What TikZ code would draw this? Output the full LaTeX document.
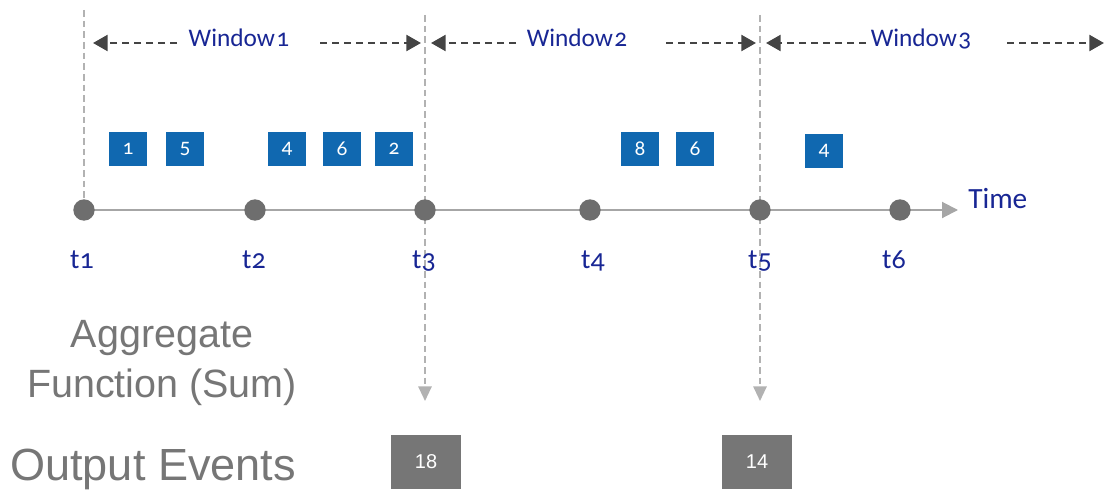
\documentclass[tikz,border=0pt]{standalone}
\usepackage{fontspec}
\setmainfont{Liberation Sans}
\newfontfamily\blfont[Numbers=OldStyle]{Carlito}
\usetikzlibrary{arrows.meta,backgrounds}

\definecolor{navytext}{RGB}{24,38,148}
\definecolor{evblue}{RGB}{16,104,176}
\definecolor{dotgray}{RGB}{110,110,110}
\definecolor{axisgray}{RGB}{166,166,166}
\definecolor{guidegray}{RGB}{178,178,178}
\definecolor{arrowgray}{RGB}{68,68,68}
\definecolor{outgray}{RGB}{118,118,118}

\begin{document}
\begin{tikzpicture}[x=0.75pt,y=-0.75pt,
  dot/.style={circle, fill=dotgray, inner sep=0pt, minimum size=16pt},
  evbox/.style={fill=evblue, text=white, inner sep=0pt,
    minimum width=28.5pt, minimum height=25.5pt,
    font=\blfont\fontsize{16}{16}\selectfont},
  outbox/.style={fill=outgray, text=white, inner sep=0pt,
    minimum width=52.5pt, minimum height=41pt,
    font=\fontsize{15}{15}\selectfont},
  tlabel/.style={text=navytext, inner sep=0pt, anchor=base,
    font=\blfont\fontsize{21}{21}\selectfont},
  winlabel/.style={text=navytext, inner sep=0pt, anchor=base,
    font=\blfont\fontsize{19}{19}\selectfont},
  guide/.style={draw=guidegray, line width=1.5pt, dash pattern=on 5pt off 3pt},
  guidearrow/.style={guide, -{Triangle[length=11pt,width=10pt,fill=guidegray]}},
  winarrow/.style={draw=arrowgray, line width=1.8pt,
    dash pattern=on 5.5pt off 3.5pt,
    -{Triangle[length=11pt,width=12pt,fill=arrowgray]}},
  axis/.style={draw=axisgray, line width=1.5pt,
    -{Triangle[length=12pt,width=12pt,fill=axisgray]}},
  graytext/.style={text=outgray, inner sep=0pt}
]
\useasboundingbox (0,0) rectangle (1105,499);

% time marks on the axis
\node[dot] (t1) at (84,210) {};
\node[dot] (t2) at (255,210) {};
\node[dot] (t3) at (425,210) {};
\node[dot] (t4) at (590,210) {};
\node[dot] (t5) at (760,210) {};
\node[dot] (t6) at (900,210) {};
\coordinate (axisend) at (958,210);

% window boundaries
\coordinate (g1top) at (84,10);
\coordinate (g3top) at (425,15);
\coordinate (g5top) at (760,15);
\coordinate (g3end) at (425,401);
\coordinate (g5end) at (760,401);

\begin{scope}[on background layer]
\draw[guide] (g1top) -- (t1.center);
\draw[guidearrow] (g3top) -- (g3end);
\draw[guidearrow] (g5top) -- (g5end);
\draw[axis] (t1.center) -- (axisend);
\end{scope}

\node[anchor=base west, inner sep=0pt, text=navytext,
  font=\blfont\fontsize{22}{22}\selectfont] (time) at (968,208) {Time};

% time labels
\node[tlabel] (l1) at (82,268) {t1};
\node[tlabel] (l2) at (254,268) {t2};
\node[tlabel] (l3) at (424,268) {t3};
\node[tlabel] (l4) at (593,268) {t4};
\node[tlabel] (l5) at (760,268) {t5};
\node[tlabel] (l6) at (894,268) {t6};

% window spans
\node[winlabel] (w1) at (239,47) {Window\kern1pt 1};
\node[winlabel] (w2) at (577,47) {Window\kern1pt 2};
\node[winlabel] (w3) at (921,47) {Window\kern1pt 3};

\coordinate (w1l) at (177,43); \coordinate (w1lt) at (93,43);
\coordinate (w1r) at (320,43); \coordinate (w1rt) at (421,43);
\coordinate (w2l) at (516,43); \coordinate (w2lt) at (431,43);
\coordinate (w2r) at (666,43); \coordinate (w2rt) at (756,43);
\coordinate (w3l) at (866,43); \coordinate (w3lt) at (766,43);
\coordinate (w3r) at (1007,43); \coordinate (w3rt) at (1104,43);

\draw[winarrow] (w1l) -- (w1lt);
\draw[winarrow] (w1r) -- (w1rt);
\draw[winarrow] (w2l) -- (w2lt);
\draw[winarrow] (w2r) -- (w2rt);
\draw[winarrow] (w3l) -- (w3lt);
\draw[winarrow] (w3r) -- (w3rt);

% incoming events
\node[evbox] (e1) at (128,149) {1};
\node[evbox] (e2) at (185,149) {5};
\node[evbox] (e3) at (287,149) {4};
\node[evbox] (e4) at (342,149) {6};
\node[evbox] (e5) at (394,149) {2};
\node[evbox] (e6) at (640,149) {8};
\node[evbox] (e7) at (695,149) {6};
\node[evbox] (e8) at (824,151) {4};

% aggregation and results
\node[graytext, align=center, anchor=base,
  font=\fontsize{29.6}{37.5}\selectfont] (agg) at (162,397)
  {Aggregate\\Function (Sum)};
\node[graytext, anchor=base west,
  font=\fontsize{33.8}{34}\selectfont] (out) at (10,480) {Output Events};

\node[outbox] (o1) at (426,462) {18};
\node[outbox] (o2) at (757,462) {14};
\end{tikzpicture}
\end{document}
